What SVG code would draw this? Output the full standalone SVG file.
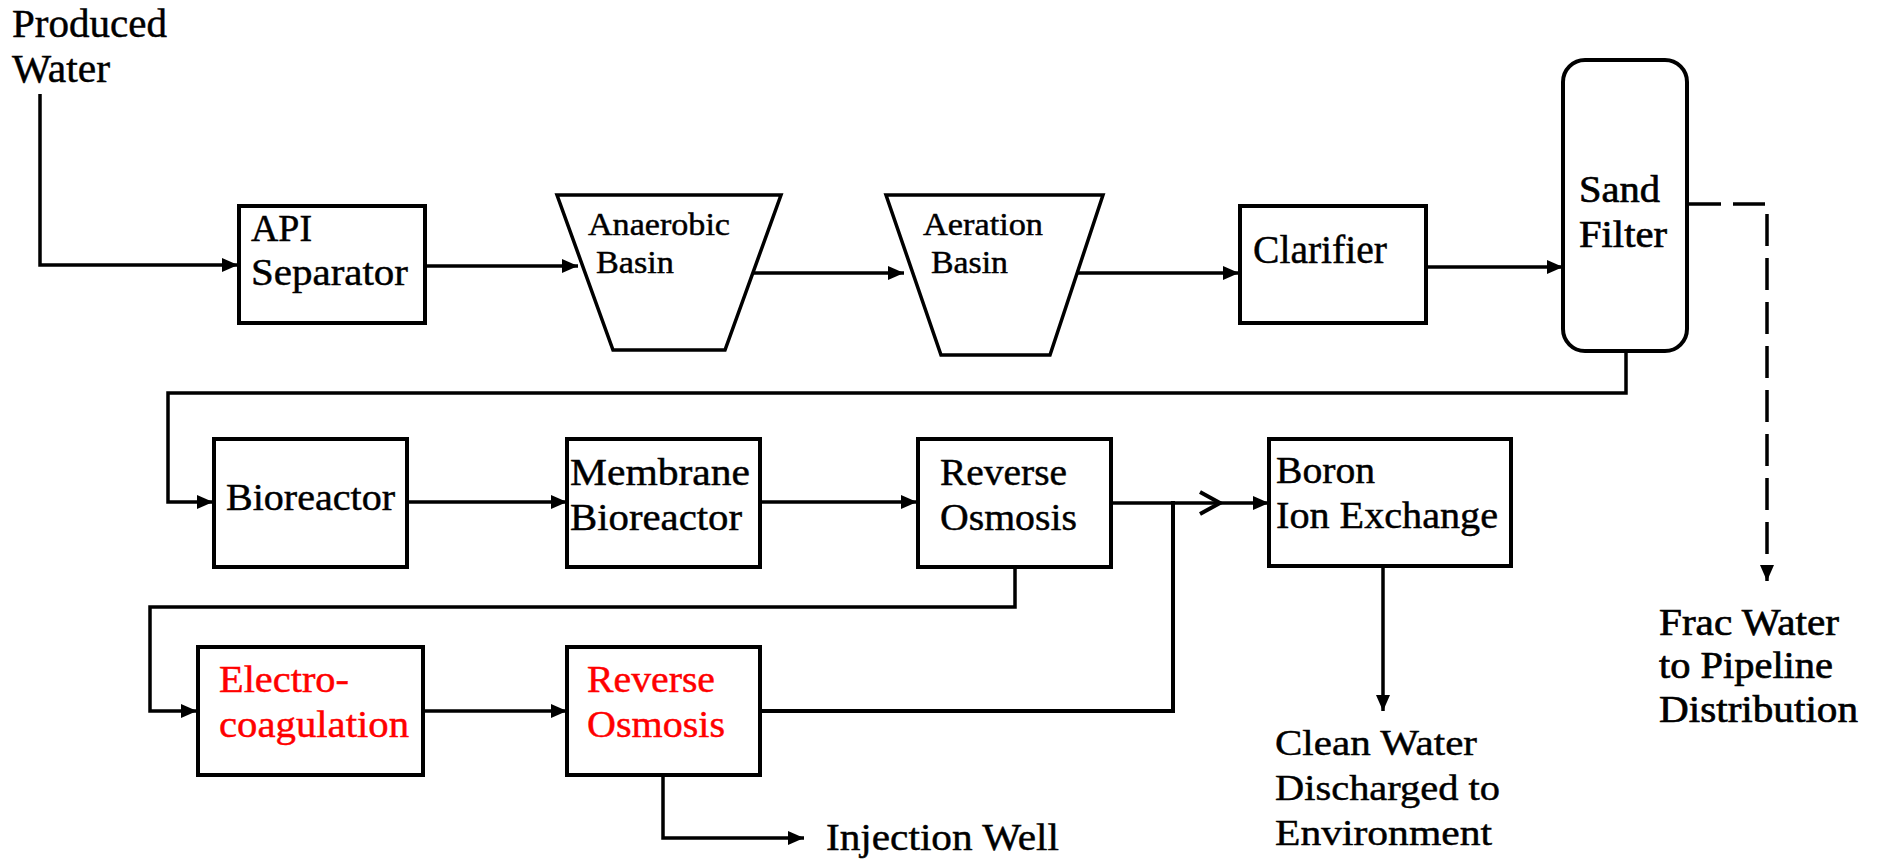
<svg xmlns="http://www.w3.org/2000/svg" width="1881" height="861" viewBox="0 0 1881 861">
<style>
  .box { fill: #fff; stroke: #000; stroke-width: 4; }
  .trap { fill: #fff; stroke: #000; stroke-width: 3.5; stroke-linejoin: miter; }
  .t { font-family: "Liberation Serif", "Times New Roman", serif; fill: #000; stroke: #000; stroke-width: 0.45; }
  .b { stroke-width: 0.65; }
  .red { fill: #ff0000; stroke: #ff0000; }
  .s37 { font-size: 37px; }
  .s29 { font-size: 31px; }
  .conn path { fill: none; stroke: #000; stroke-width: 3.5; }
  .conn .dash { stroke-dasharray: 32 12; }
</style>
<defs>
  <marker id="arr" markerUnits="userSpaceOnUse" viewBox="0 0 16 14" refX="16" refY="7" markerWidth="16" markerHeight="14" orient="auto">
    <path d="M0,0 L16,7 L0,14 z" fill="#000"/>
  </marker>
</defs>
<rect width="1881" height="861" fill="#fff"/>

<g id="connectors" class="conn">
  <path d="M40 94 V265 H238" marker-end="url(#arr)"/>
  <path d="M425 266 H578" marker-end="url(#arr)"/>
  <path d="M753 273 H904" marker-end="url(#arr)"/>
  <path d="M1078 273 H1239" marker-end="url(#arr)"/>
  <path d="M1426 267 H1563" marker-end="url(#arr)"/>
  <path class="dash" d="M1689 204 H1767 V581" marker-end="url(#arr)"/>
  <path d="M1626 351 V393 H168 V502 H213" marker-end="url(#arr)"/>
  <path d="M407 502 H567" marker-end="url(#arr)"/>
  <path d="M760 502 H917" marker-end="url(#arr)"/>
  <path d="M1111 503 H1269" marker-end="url(#arr)"/>
  <path d="M1200 492 L1220 503 L1200 514" style="stroke-width:4"/>
  <path d="M1015 567 V607 H150 V711 H197" marker-end="url(#arr)"/>
  <path d="M423 711 H567" marker-end="url(#arr)"/>
  <path d="M760 711 H1173 V501" style="stroke-width:4"/>
  <path d="M663 775 V838 H804" marker-end="url(#arr)"/>
  <path d="M1383 566 V711" marker-end="url(#arr)"/>
</g>

<g id="produced-water">
  <text class="t" font-size="39" x="12" y="37" textLength="155" lengthAdjust="spacingAndGlyphs">Produced</text>
  <text class="t" font-size="39" x="12" y="82" textLength="98" lengthAdjust="spacingAndGlyphs">Water</text>
</g>

<g id="api-separator">
  <rect class="box" x="239" y="206" width="186" height="117"/>
  <text class="t" font-size="37" x="251" y="241" textLength="61" lengthAdjust="spacingAndGlyphs">API</text>
  <text class="t" font-size="37" x="251" y="285" textLength="157" lengthAdjust="spacingAndGlyphs">Separator</text>
</g>

<g id="anaerobic-basin">
  <polygon class="trap" points="557,195 781,195 725,350 613,350"/>
  <text class="t s29" x="588" y="235" textLength="142" lengthAdjust="spacingAndGlyphs">Anaerobic</text>
  <text class="t s29" x="596" y="273" textLength="78" lengthAdjust="spacingAndGlyphs">Basin</text>
</g>

<g id="aeration-basin">
  <polygon class="trap" points="886,195 1103,195 1050,355 941,355"/>
  <text class="t s29" x="923" y="235" textLength="120" lengthAdjust="spacingAndGlyphs">Aeration</text>
  <text class="t s29" x="931" y="273" textLength="77" lengthAdjust="spacingAndGlyphs">Basin</text>
</g>

<g id="clarifier">
  <rect class="box" x="1240" y="206" width="186" height="117"/>
  <text class="t" font-size="39" x="1253" y="263" textLength="134" lengthAdjust="spacingAndGlyphs">Clarifier</text>
</g>

<g id="sand-filter">
  <rect class="box" x="1563" y="60" width="124" height="291" rx="22" ry="22"/>
  <text class="t s37 b" x="1579" y="202" textLength="81" lengthAdjust="spacingAndGlyphs">Sand</text>
  <text class="t s37 b" x="1579" y="247" textLength="88" lengthAdjust="spacingAndGlyphs">Filter</text>
</g>

<g id="frac-water">
  <text class="t s37 b" x="1659" y="635" textLength="180" lengthAdjust="spacingAndGlyphs">Frac Water</text>
  <text class="t s37 b" x="1659" y="678" textLength="174" lengthAdjust="spacingAndGlyphs">to Pipeline</text>
  <text class="t s37 b" x="1659" y="722" textLength="199" lengthAdjust="spacingAndGlyphs">Distribution</text>
</g>

<g id="bioreactor">
  <rect class="box" x="214" y="439" width="193" height="128"/>
  <text class="t s37" x="226" y="510" textLength="169" lengthAdjust="spacingAndGlyphs">Bioreactor</text>
</g>

<g id="membrane-bioreactor">
  <rect class="box" x="567" y="439" width="193" height="128"/>
  <text class="t s37" x="570" y="485" textLength="180" lengthAdjust="spacingAndGlyphs">Membrane</text>
  <text class="t s37" x="570" y="530" textLength="172" lengthAdjust="spacingAndGlyphs">Bioreactor</text>
</g>

<g id="reverse-osmosis-1">
  <rect class="box" x="918" y="439" width="193" height="128"/>
  <text class="t s37" x="940" y="485" textLength="127" lengthAdjust="spacingAndGlyphs">Reverse</text>
  <text class="t s37" x="940" y="530" textLength="137" lengthAdjust="spacingAndGlyphs">Osmosis</text>
</g>

<g id="boron-ion-exchange">
  <rect class="box" x="1269" y="439" width="242" height="127"/>
  <text class="t s37" x="1276" y="483" textLength="99" lengthAdjust="spacingAndGlyphs">Boron</text>
  <text class="t s37" x="1276" y="528" textLength="222" lengthAdjust="spacingAndGlyphs">Ion Exchange</text>
</g>

<g id="electrocoagulation">
  <rect class="box" x="198" y="647" width="225" height="128"/>
  <text class="t s37 red" x="219" y="692" textLength="130" lengthAdjust="spacingAndGlyphs">Electro-</text>
  <text class="t s37 red" x="219" y="737" textLength="190" lengthAdjust="spacingAndGlyphs">coagulation</text>
</g>

<g id="reverse-osmosis-2">
  <rect class="box" x="567" y="647" width="193" height="128"/>
  <text class="t s37 red" x="587" y="692" textLength="128" lengthAdjust="spacingAndGlyphs">Reverse</text>
  <text class="t s37 red" x="587" y="737" textLength="138" lengthAdjust="spacingAndGlyphs">Osmosis</text>
</g>

<g id="injection-well">
  <text class="t s37" x="826" y="850" textLength="233" lengthAdjust="spacingAndGlyphs">Injection Well</text>
</g>

<g id="clean-water">
  <text class="t" font-size="36" x="1275" y="755" textLength="202" lengthAdjust="spacingAndGlyphs">Clean Water</text>
  <text class="t" font-size="36" x="1275" y="800" textLength="225" lengthAdjust="spacingAndGlyphs">Discharged to</text>
  <text class="t" font-size="36" x="1275" y="845" textLength="217" lengthAdjust="spacingAndGlyphs">Environment</text>
</g>
</svg>
